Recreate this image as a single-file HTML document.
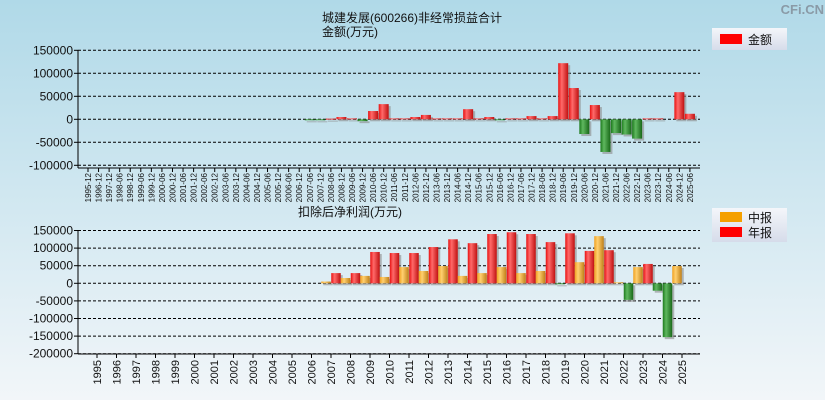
<!DOCTYPE html>
<html><head><meta charset="utf-8"><style>
html,body{margin:0;padding:0;width:825px;height:400px;overflow:hidden}
body{background:linear-gradient(#b0d9e8,#f2f6f9);font-family:"Liberation Sans","Noto Sans CJK SC",sans-serif}
svg text{font-family:"Liberation Sans","Noto Sans CJK SC",sans-serif}
</style></head><body>
<svg id="c" width="825" height="400" xmlns="http://www.w3.org/2000/svg">
<defs>
<linearGradient id="gr" x1="0" x2="1"><stop offset="0" stop-color="#e81010"/><stop offset="0.35" stop-color="#ff6a6a"/><stop offset="1" stop-color="#c01010"/></linearGradient>
<linearGradient id="gg" x1="0" x2="1"><stop offset="0" stop-color="#1d7a1d"/><stop offset="0.35" stop-color="#5fb85f"/><stop offset="1" stop-color="#186818"/></linearGradient>
<linearGradient id="go" x1="0" x2="1"><stop offset="0" stop-color="#f0a020"/><stop offset="0.35" stop-color="#ffd070"/><stop offset="1" stop-color="#c08018"/></linearGradient>
<linearGradient id="lg" x1="0" y1="0" x2="0" y2="1"><stop offset="0" stop-color="#f4f6fa"/><stop offset="1" stop-color="#d6dcea"/></linearGradient>
</defs>
<text x="824" y="14" text-anchor="end" font-size="13" fill="#8a9aa6" font-weight="bold">CFi.CN</text>
<text x="412" y="22" text-anchor="middle" font-size="12" fill="#111">城建发展(600266)非经常损益合计</text>
<text x="350" y="36" text-anchor="middle" font-size="12" fill="#111">金额(万元)</text>
<g><rect x="712" y="28" width="75" height="22" fill="url(#lg)"/><rect x="720" y="34" width="22" height="10" fill="#f00"/><text x="748" y="44" font-size="12" fill="#111">金额</text></g>
<text x="350" y="216" text-anchor="middle" font-size="12" fill="#111">扣除后净利润(万元)</text>
<g><rect x="712" y="208" width="75" height="34" fill="url(#lg)"/><rect x="720" y="212" width="22" height="10" fill="#f5a000"/><text x="748" y="222" font-size="12" fill="#111">中报</text><rect x="720" y="227" width="22" height="10" fill="#f00"/><text x="748" y="237" font-size="12" fill="#111">年报</text></g>
<g id="top"></g><g id="bot"></g>
</svg>
<script>
const topCats=["1995-12","1996-12","1997-12","1998-06","1998-12","1999-06","1999-12","2000-06","2000-12","2001-06","2001-12","2002-06","2002-12","2003-06","2003-12","2004-06","2004-12","2005-06","2005-12","2006-06","2006-12","2007-06","2007-12","2008-06","2008-12","2009-06","2009-12","2010-06","2010-12","2011-06","2011-12","2012-06","2012-12","2013-06","2013-12","2014-06","2014-12","2015-06","2015-12","2016-06","2016-12","2017-06","2017-12","2018-06","2018-12","2019-06","2019-12","2020-06","2020-12","2021-06","2021-12","2022-06","2022-12","2023-06","2023-12","2024-06","2024-12","2025-06"];
const topVals=[0,0,0,0,0,0,0,0,0,0,0,0,0,0,0,0,0,0,0,0,0,-1000,-1000,1500,5000,2000,-4000,18000,33000,2000,2000,5000,9500,2000,2000,2000,22000,2000,5000,-1000,2000,2000,7000,2000,7000,122000,68000,-32000,31000,-71000,-30000,-33000,-42000,2000,2000,0,59000,12000];
const topTicks=[150000,100000,50000,0,-50000,-100000];
const years=["1995","1996","1997","1998","1999","2000","2001","2002","2003","2004","2005","2006","2007","2008","2009","2010","2011","2012","2013","2014","2015","2016","2017","2018","2019","2020","2021","2022","2023","2024","2025"];
const midVals=[null,null,null,null,null,null,null,null,null,null,null,null,5000,15000,21000,18000,46000,35000,49000,21000,29000,46000,29000,35000,-2000,60000,134000,3000,46000,-21000,49000];
const annVals=[null,null,null,null,null,null,null,null,null,null,null,null,29000,29000,89000,86000,86000,103000,125000,114000,140000,145000,140000,117000,142000,92000,94000,-47000,55000,-153000,null];
const botTicks=[150000,100000,50000,0,-50000,-100000,-150000,-200000];
const NS="http://www.w3.org/2000/svg";
function mk(p,t,a){const e=document.createElementNS(NS,t);for(const k in a)e.setAttribute(k,a[k]);p.appendChild(e);return e;}
function axis(g,ticks,yf,x0,x1,yb){
  ticks.forEach(t=>{const y=yf(t);
    const l=mk(g,'line',{x1:x0,x2:x1,y1:y,y2:y,stroke:'#000','stroke-dasharray':'3,2','stroke-width':1});
    
    
    mk(g,'line',{x1:x0-4,x2:x0,y1:y,y2:y,stroke:'#000'});
    const tx=mk(g,'text',{x:x0-5,y:y+4,'text-anchor':'end','font-size':12,fill:'#111'});tx.textContent=t;
    
    
  });
  mk(g,'line',{x1:x0,x2:x0,y1:yf(ticks[0]),y2:yb,stroke:'#000'});
  mk(g,'line',{x1:x0,x2:x1,y1:yb,y2:yb,stroke:'#000'});
}
function bar(g,cx,w,yf,v,fill,name){
  const y0=yf(0),y=yf(v);const top=Math.min(y0,y),h=Math.max(Math.abs(y-y0),1);
  mk(g,'rect',{x:cx-w/2+2,y:top+2,width:w,height:h,fill:'#8a8a8a',opacity:0.6});
  const r=mk(g,'rect',{x:cx-w/2,y:top,width:w,height:h,fill:v<0?'url(#gg)':fill});
  
  
}
const T=document.getElementById('top');
const ty=v=>119.3-v*23/50000;
const tx=i=>88+i*10.56;
axis(T,topTicks,ty,78,700,168);
topCats.forEach((c,i)=>{
  const x=tx(i);
  mk(T,'line',{x1:x,x2:x,y1:168,y2:172,stroke:'#000'});
  const t=mk(T,'text',{x:0,y:0,'font-size':8,fill:'#111',transform:`translate(${x+3},173) rotate(-90)`,'text-anchor':'end'});
  t.textContent=c;
  
  
  if(topVals[i]) bar(T,x,10,ty,topVals[i],'url(#gr)','bar-'+c);
});
const B=document.getElementById('bot');
const by=v=>283.3-v*17.6/50000;
const bx=i=>97+i*19.5;
axis(B,botTicks,by,78,700,354);
years.forEach((yr,i)=>{
  const x=bx(i);
  mk(B,'line',{x1:x,x2:x,y1:354,y2:358,stroke:'#000'});
  const t=mk(B,'text',{x:0,y:0,'font-size':11,fill:'#111',transform:`translate(${x+4},360) rotate(-90)`,'text-anchor':'end'});
  t.textContent=yr;
  
  
  if(midVals[i]!==null) bar(B,x-5,9.5,by,midVals[i],'url(#go)','bar-mid-'+yr);
  if(annVals[i]!==null) bar(B,x+5,9.5,by,annVals[i],'url(#gr)','bar-annual-'+yr);
});
</script>
</body></html>
